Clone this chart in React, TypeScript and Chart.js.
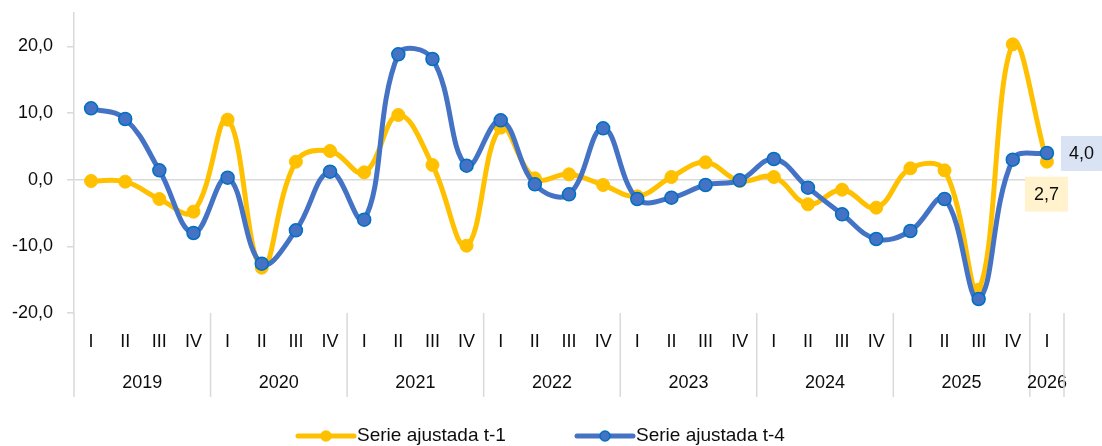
import React, { useEffect, useRef } from 'react';
import { Chart, registerables } from 'chart.js';

Chart.register(...registerables);

const quarterLabels = [
  'I', 'II', 'III', 'IV',
  'I', 'II', 'III', 'IV',
  'I', 'II', 'III', 'IV',
  'I', 'II', 'III', 'IV',
  'I', 'II', 'III', 'IV',
  'I', 'II', 'III', 'IV',
  'I', 'II', 'III', 'IV',
  'I',
];
const years = ['2019', '2020', '2021', '2022', '2023', '2024', '2025', '2026'];
const yearSpans = [4, 4, 4, 4, 4, 4, 4, 1];

const serieT1 = [
  -0.2, -0.3, -2.9, -4.8,
  9.0, -13.2, 2.7, 4.3,
  1.1, 9.7, 2.2, -9.9,
  7.8, 0.2, 0.8, -0.8,
  -2.5, 0.4, 2.6, -0.2,
  0.4, -3.7, -1.5, -4.2,
  1.7, 1.4, -16.5, 20.3,
  2.7,
];
const serieT4 = [
  10.7, 9.1, 1.4, -8.0,
  0.3, -12.6, -7.6, 1.2,
  -6.0, 18.8, 18.1, 2.1,
  8.9, -0.7, -2.2, 7.7,
  -2.9, -2.7, -0.8, -0.1,
  3.1, -1.2, -5.2, -8.9,
  -7.7, -2.9, -17.9, 3.0,
  4.0,
];
const yTicks = [-20, -10, 0, 10, 20];
const seriesNames = ['Serie ajustada t-1', 'Serie ajustada t-4'];

const YELLOW = '#FFC000';
const BLUE = '#4472C4';
const BLUE_BORDER = '#0070C0';
const GRID = '#D9D9D9';
const TEXT = '#0D0D0D';
const FONT = '"Liberation Sans", Arial, sans-serif';

const fmt = (v: number) => v.toFixed(1).replace('.', ',');

const xGroupsPlugin = {
  id: 'xGroups',
  afterDraw(chart: any) {
    const { ctx, chartArea, scales } = chart;
    const x = scales.x;
    const band = x.getPixelForValue(1) - x.getPixelForValue(0);
    const bottom = chartArea.bottom;
    ctx.save();
    ctx.font = `18px ${FONT}`;
    ctx.fillStyle = TEXT;
    ctx.textAlign = 'center';
    ctx.textBaseline = 'middle';
    quarterLabels.forEach((q, i) => {
      ctx.fillText(q, x.getPixelForValue(i), bottom + 29);
    });
    ctx.strokeStyle = GRID;
    ctx.lineWidth = 1.5;
    const sep = (px: number) => {
      ctx.beginPath();
      ctx.moveTo(px, bottom);
      ctx.lineTo(px, bottom + 84);
      ctx.stroke();
    };
    sep(x.getPixelForValue(0) - band / 2);
    let idx = 0;
    years.forEach((y, k) => {
      const span = yearSpans[k];
      const first = x.getPixelForValue(idx);
      const last = x.getPixelForValue(idx + span - 1);
      ctx.fillText(y, (first + last) / 2, bottom + 70.5);
      idx += span;
      sep(last + band / 2);
    });
    ctx.restore();
  },
};

const endLabelsPlugin = {
  id: 'endLabels',
  afterDatasetsDraw(chart: any) {
    const { ctx } = chart;
    ctx.save();
    ctx.font = `18px ${FONT}`;
    ctx.textAlign = 'center';
    ctx.textBaseline = 'middle';
    const m0 = chart.getDatasetMeta(0);
    const p0 = m0.data[m0.data.length - 1];
    const v0 = serieT1[serieT1.length - 1];
    ctx.fillStyle = '#FFF2CC';
    ctx.fillRect(p0.x - 22, p0.y + 15, 43, 35);
    ctx.fillStyle = TEXT;
    ctx.fillText(fmt(v0), p0.x - 0.5, p0.y + 33);
    const m1 = chart.getDatasetMeta(1);
    const p1 = m1.data[m1.data.length - 1];
    const v1 = serieT4[serieT4.length - 1];
    ctx.fillStyle = '#DAE3F3';
    ctx.fillRect(p1.x + 14, p1.y - 17, 41, 35);
    ctx.fillStyle = TEXT;
    ctx.fillText(fmt(v1), p1.x + 34.5, p1.y + 1);
    ctx.restore();
  },
};

const legendPlugin = {
  id: 'customLegend',
  afterDraw(chart: any) {
    const { ctx } = chart;
    const yc = 436;
    const items = [
      { x0: 298, color: YELLOW, border: YELLOW, name: seriesNames[0] },
      { x0: 577, color: BLUE, border: BLUE_BORDER, name: seriesNames[1] },
    ];
    ctx.save();
    items.forEach((it) => {
      ctx.strokeStyle = it.color;
      ctx.lineWidth = 5;
      ctx.lineCap = 'round';
      ctx.beginPath();
      ctx.moveTo(it.x0, yc);
      ctx.lineTo(it.x0 + 56, yc);
      ctx.stroke();
      ctx.beginPath();
      ctx.arc(it.x0 + 28, yc, 5, 0, Math.PI * 2);
      ctx.fillStyle = it.color;
      ctx.fill();
      ctx.lineWidth = 1.5;
      ctx.strokeStyle = it.border;
      ctx.stroke();
      ctx.font = `19px ${FONT}`;
      ctx.fillStyle = TEXT;
      ctx.textAlign = 'left';
      ctx.textBaseline = 'middle';
      ctx.fillText(it.name, it.x0 + 59, yc);
    });
    ctx.restore();
  },
};

export default function App() {
  const canvasRef = useRef<HTMLCanvasElement | null>(null);

  useEffect(() => {
    const canvas = canvasRef.current;
    if (!canvas) return;
    Chart.defaults.font.family = FONT;
    const chart = new Chart(canvas, {
      type: 'line',
      data: {
        labels: quarterLabels.map((q, i) => `${i}-${q}`),
        datasets: [
          {
            label: seriesNames[0],
            data: serieT1,
            borderColor: YELLOW,
            backgroundColor: YELLOW,
            borderWidth: 5,
            pointRadius: 6.5,
            pointBackgroundColor: YELLOW,
            pointBorderColor: YELLOW,
            pointBorderWidth: 1,
            tension: 0.4,
            order: 2,
            clip: false as any,
          },
          {
            label: seriesNames[1],
            data: serieT4,
            borderColor: BLUE,
            backgroundColor: BLUE,
            borderWidth: 5,
            pointRadius: 6.5,
            pointBackgroundColor: BLUE,
            pointBorderColor: BLUE_BORDER,
            pointBorderWidth: 1.5,
            tension: 0.4,
            order: 1,
            clip: false as any,
          },
        ],
      },
      options: {
        animation: false,
        responsive: false,
        maintainAspectRatio: false,
        layout: { padding: { left: 0, right: 38, top: 13, bottom: 133 } },
        plugins: {
          legend: { display: false },
          tooltip: { enabled: false },
        },
        scales: {
          x: {
            type: 'category',
            display: false,
            offset: true,
          },
          y: {
            min: -20,
            max: 25,
            afterBuildTicks: (scale: any) => {
              scale.ticks = yTicks.map((v) => ({ value: v }));
            },
            afterFit: (scale: any) => {
              scale.width = 74;
              scale.paddingTop = 0;
              scale.paddingBottom = 0;
            },
            border: { display: true, color: GRID, width: 1.5 },
            grid: {
              color: (ctx: any) => (ctx.tick && ctx.tick.value === 0 ? GRID : 'rgba(0,0,0,0)'),
              lineWidth: 1.5,
              drawTicks: true,
              tickLength: 7,
              tickColor: GRID,
            },
            ticks: {
              padding: 14,
              color: TEXT,
              font: { size: 18, family: FONT },
              callback: (v: any) => fmt(Number(v)),
            },
          },
        },
      },
      plugins: [xGroupsPlugin, endLabelsPlugin, legendPlugin],
    });
    return () => chart.destroy();
  }, []);

  return (
    <div style={{ position: 'fixed', left: 0, top: 0, width: 1102, height: 446, background: '#fff' }}>
      <canvas ref={canvasRef} width={1102} height={446} style={{ width: 1102, height: 446, display: 'block' }} />
    </div>
  );
}
